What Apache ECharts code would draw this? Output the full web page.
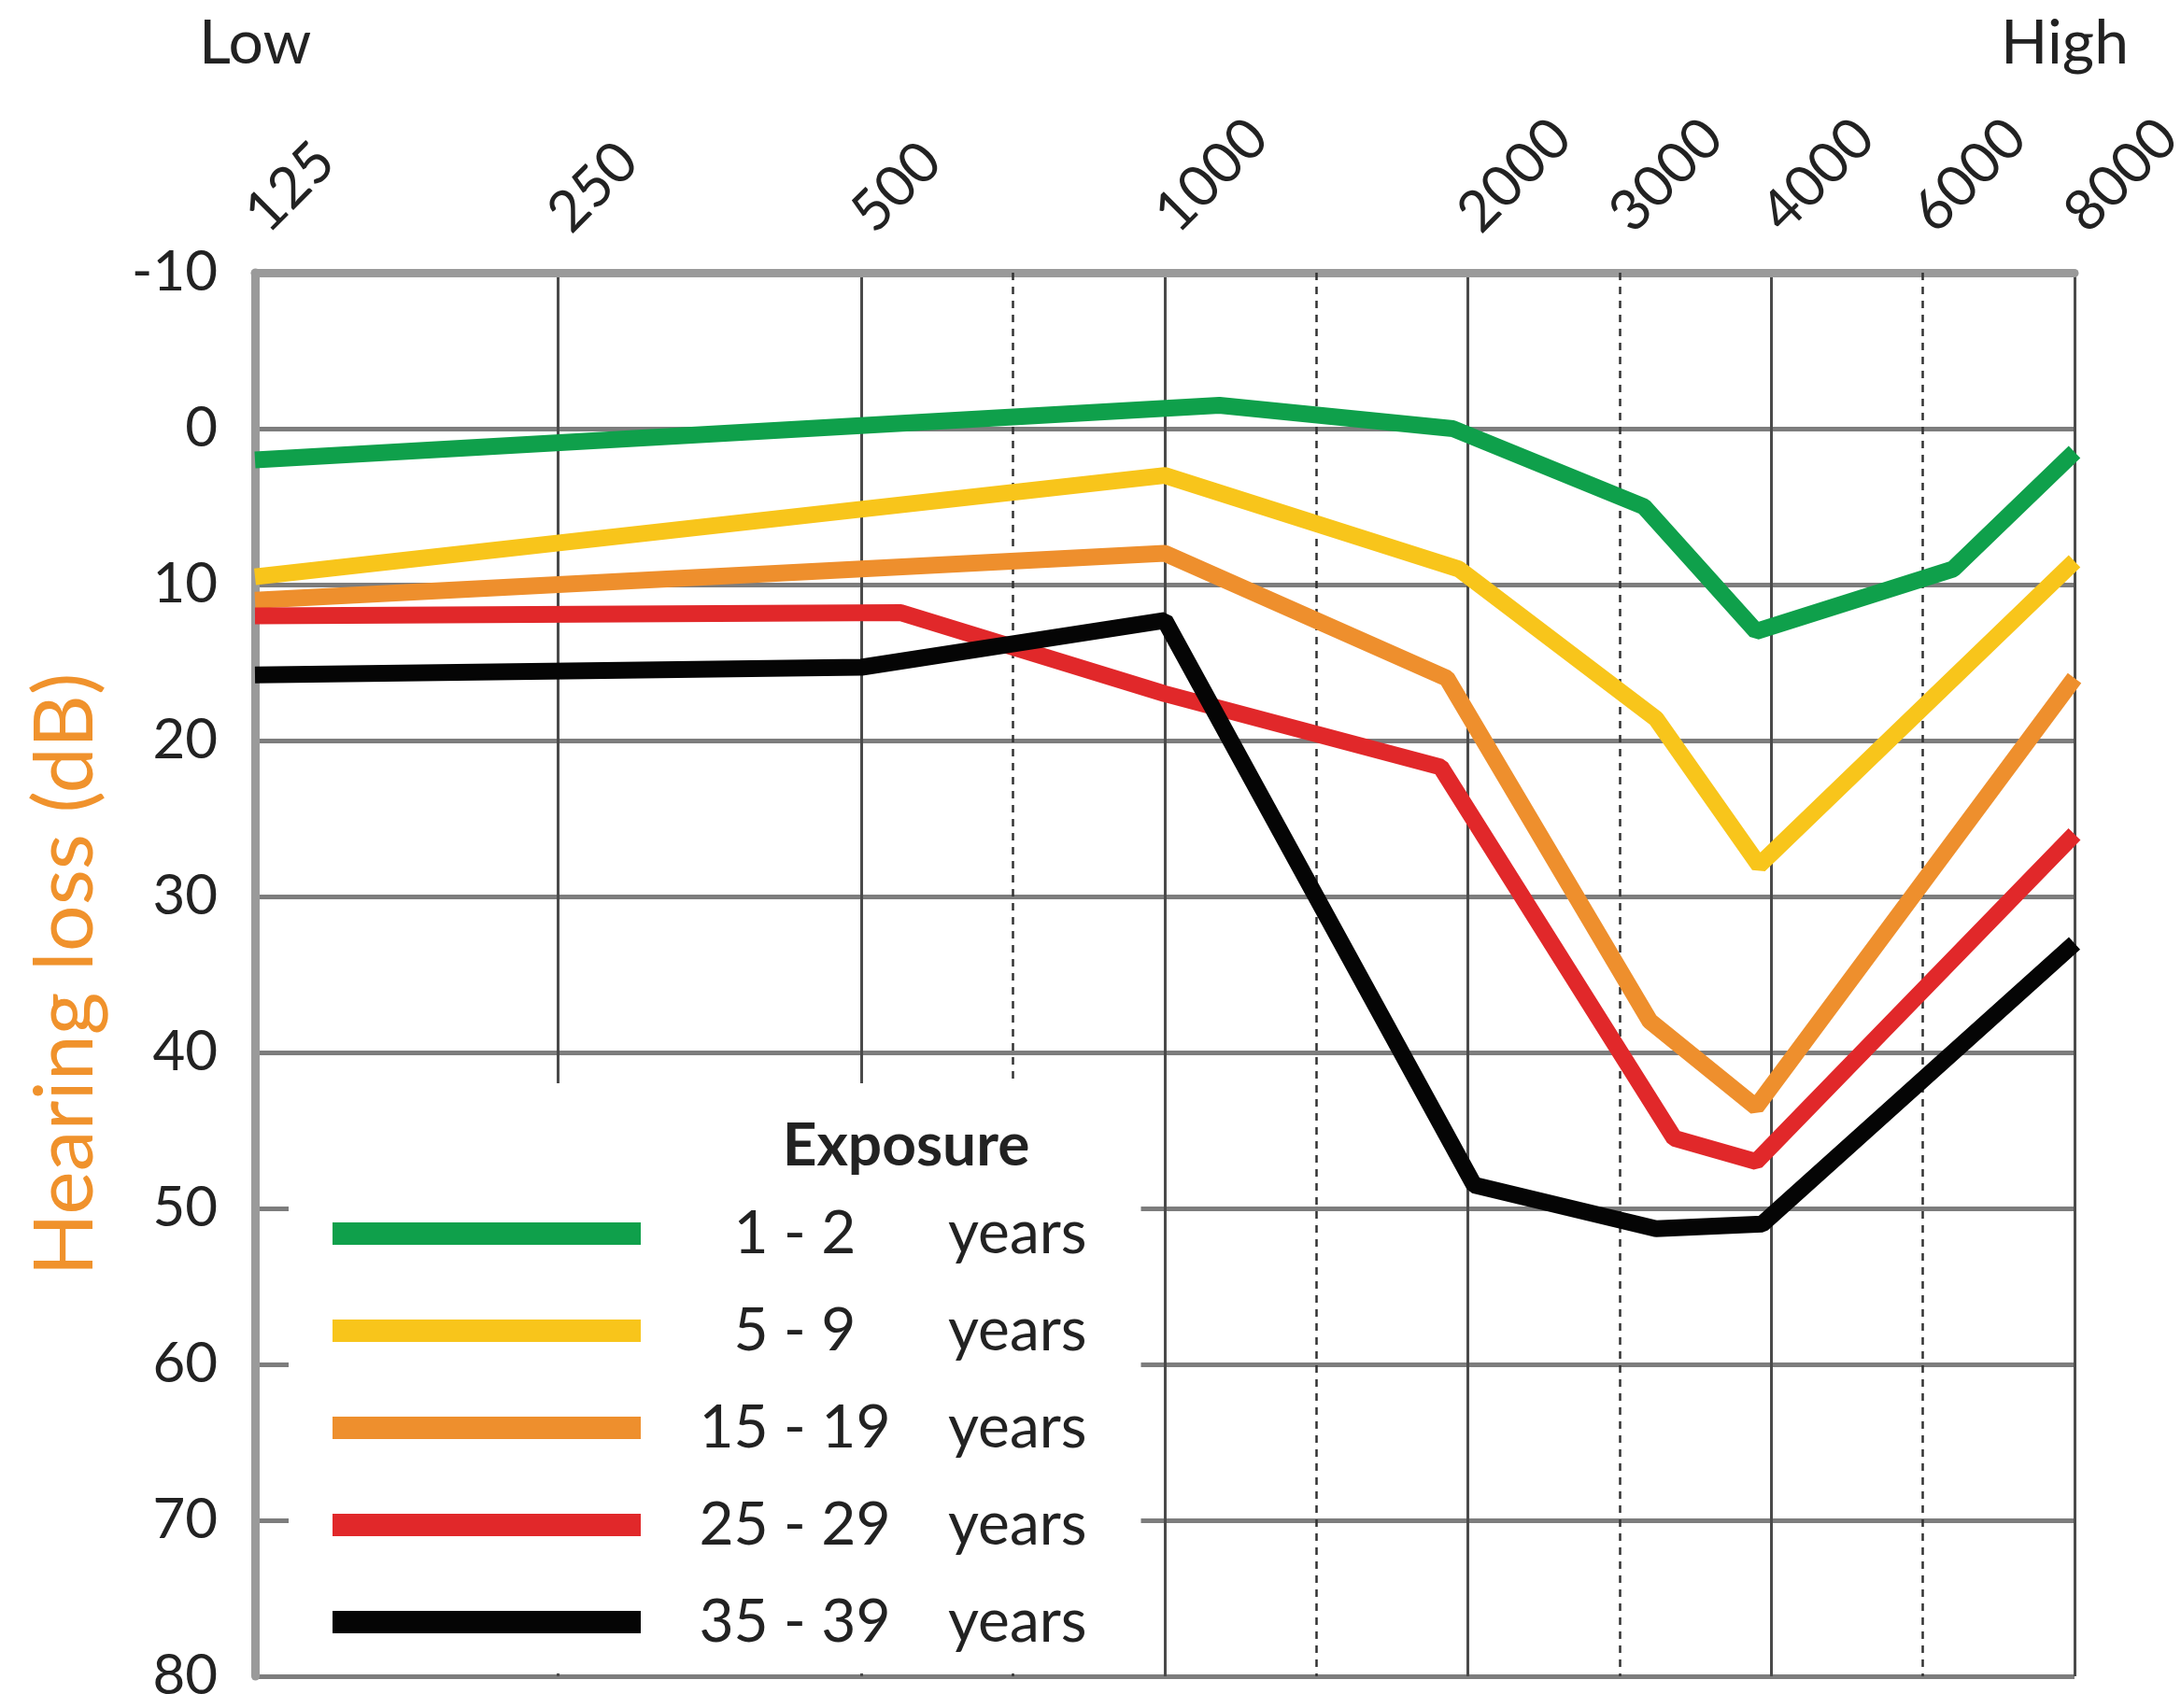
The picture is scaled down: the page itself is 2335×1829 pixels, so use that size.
<!DOCTYPE html>
<html><head><meta charset="utf-8">
<script src="https://cdn.jsdelivr.net/npm/echarts@6/dist/echarts.min.js"></script>
<style>html,body{margin:0;padding:0;background:#fff}#c{width:2335px;height:1829px}</style>
</head><body><div id="c"></div>
<script>
// Frequency axis: positions in octaves above 125 Hz (audiogram spacing)
const freqLabels   = ['125','250','500','750','1000','1500','2000','3000','4000','6000','8000'];
const freqOctave   = [0, 1, 2, 2.5, 3, 3.5, 4, 4.5, 5, 5.5, 6];
const labelledFreqs = ['125','250','500','1000','2000','3000','4000','6000','8000'];
const dottedFreqs   = ['750','1500','3000','6000'];
const dbMin = -10, dbMax = 80, dbStep = 10;

// Exposure groups
const seriesNames = ['1 - 2','5 - 9','15 - 19','25 - 29','35 - 39'];
const seriesColors = ['#0fa04b','#f8c51b','#ee8f2d','#e1282a','#050505'];

// x = octaves above 125 Hz, y = hearing loss (dB)
const greenX  = [0, 3.18, 3.95, 4.58, 4.95, 5.6, 6];
const greenY  = [2, -1.5, 0, 5, 13, 9, 1.5];
const yellowX = [0, 3, 3.97, 4.62, 4.96, 6];
const yellowY = [9.5, 3, 9, 18.6, 28, 8.5];
const orangeX = [0, 3, 3.93, 4.6, 4.95, 6];
const orangeY = [11, 8, 16, 38, 43.5, 16];
const redX    = [0, 2.13, 3, 3.91, 4.68, 4.95, 6];
const redY    = [12, 11.8, 17, 21.7, 45.5, 47, 26];
const blackX  = [0, 2, 3, 4.02, 4.62, 4.97, 6];
const blackY  = [15.8, 15.3, 12.3, 48.5, 51.3, 51, 33];

const allX = [greenX, yellowX, orangeX, redX, blackX];
const allY = [greenY, yellowY, orangeY, redY, blackY];

const FONT = 'Lato, "Open Sans", sans-serif';
const octOf = f => freqOctave[freqLabels.indexOf(f)];

const chart = echarts.init(document.getElementById('c'), null, {renderer: 'canvas'});

const series = seriesNames.map((name, i) => {
  const s = {
    name: name,
    type: 'line',
    data: allX[i].map((x, j) => [x, allY[i][j]]),
    showSymbol: false,
    symbol: 'none',
    color: seriesColors[i],
    lineStyle: {width: 18, color: seriesColors[i]},
    z: 3,
    silent: true
  };
  if (i === 0) {
    s.markLine = {
      silent: true,
      symbol: ['none','none'],
      label: {show: false},
      z: 1,
      lineStyle: {type: [8, 7], color: '#333', width: 2.5},
      data: dottedFreqs.map(f => ({xAxis: octOf(f)}))
    };
  }
  return s;
});

const option = {
  backgroundColor: '#ffffff',
  animation: false,
  grid: {left: 273, right: 114, top: 292, bottom: 34, containLabel: false, outerBoundsMode: 'none'},
  xAxis: {
    type: 'value',
    position: 'top',
    min: 0, max: 6, interval: 0.5,
    axisLine: {show: true, onZero: false, lineStyle: {color: '#9a9a9a', width: 9}},
    axisTick: {show: false},
    axisLabel: {
      rotate: -45, margin: 54, fontSize: 61, color: '#222', fontFamily: FONT,
      formatter: v => {
        const idx = freqOctave.findIndex(o => Math.abs(o - v) < 1e-6);
        if (idx < 0) return '';
        const lab = freqLabels[idx];
        return labelledFreqs.indexOf(lab) >= 0 ? lab : '';
      }
    },
    splitLine: {show: true, lineStyle: {color: ['#4a4a4a', 'rgba(0,0,0,0)'], width: 3}}
  },
  yAxis: {
    type: 'value',
    inverse: true,
    min: dbMin, max: dbMax, interval: dbStep,
    name: 'Hearing loss (dB)',
    nameLocation: 'middle',
    nameGap: 158,
    nameTextStyle: {color: '#f0922c', fontSize: 88, fontFamily: FONT},
    axisLine: {show: true, lineStyle: {color: '#9a9a9a', width: 9}},
    axisTick: {show: false},
    axisLabel: {margin: 40, fontSize: 60, color: '#222', fontFamily: FONT},
    splitLine: {show: true, lineStyle: {color: '#7d7d7d', width: 5}}
  },
  legend: {
    orient: 'vertical',
    left: 309, top: 1160,
    z: 20,
    backgroundColor: '#ffffff',
    padding: [129, 58, 23, 47],
    icon: 'rect',
    itemWidth: 330, itemHeight: 24,
    itemGap: 40,
    selectedMode: false,
    data: seriesNames,
    formatter: name => '{a|' + name + '}{b|years}',
    textStyle: {
      fontSize: 64, fontFamily: FONT, color: '#222', lineHeight: 60,
      rich: {
        a: {fontSize: 64, fontFamily: FONT, color: '#222', width: 320, align: 'center', lineHeight: 60},
        b: {fontSize: 64, fontFamily: FONT, color: '#222', padding: [0, 0, 0, 4], lineHeight: 60}
      }
    }
  },
  graphic: [
    {type: 'text', z: 30, left: 213, top: 14,
     style: {text: 'Low', fontSize: 66, fontFamily: FONT, fill: '#222'}},
    {type: 'text', z: 30, right: 2335 - 2279, top: 14,
     style: {text: 'High', fontSize: 66, fontFamily: FONT, fill: '#222'}},
    {type: 'text', z: 30, x: 970, y: 1227,
     style: {text: 'Exposure', fontSize: 64, fontWeight: 'bold', fontFamily: FONT, fill: '#222',
             align: 'center', verticalAlign: 'middle'}}
  ],
  series: series
};
chart.setOption(option);
</script>
</body></html>
